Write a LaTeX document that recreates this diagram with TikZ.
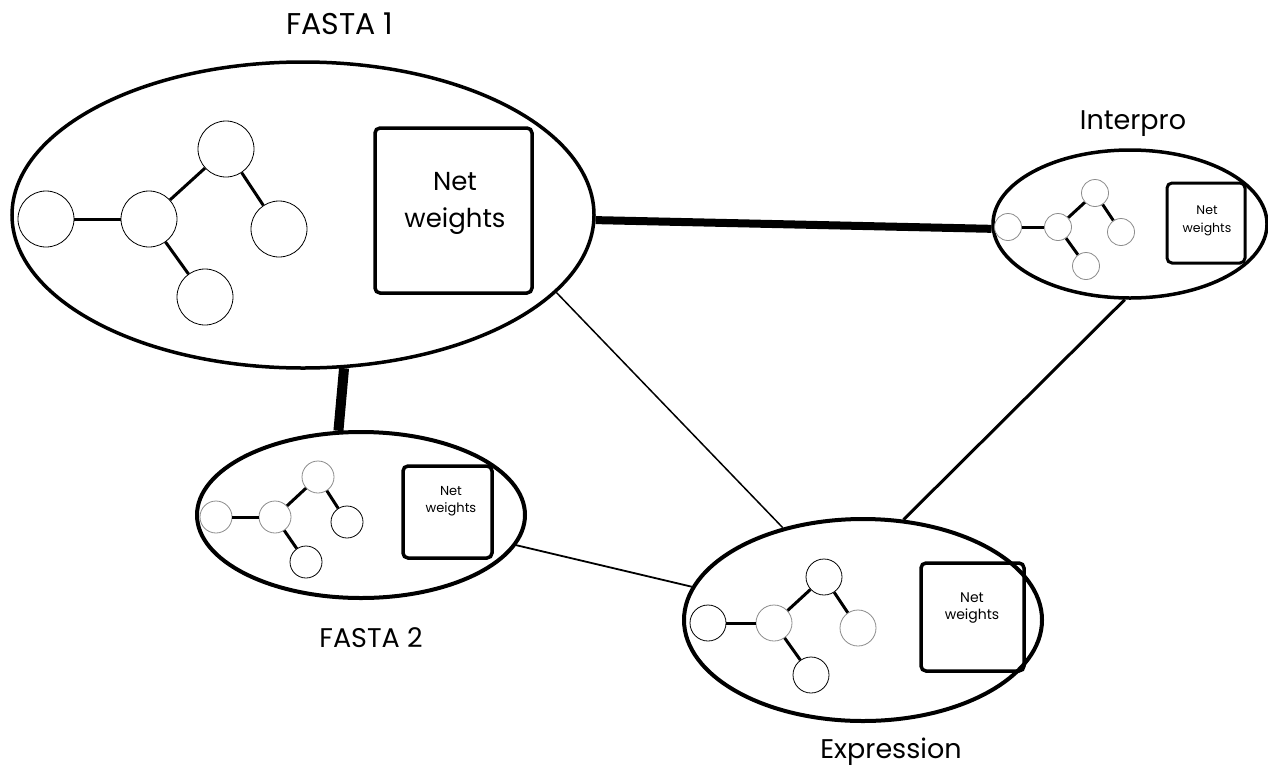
\documentclass[tikz,border=0pt]{standalone}
\usepackage{fontspec}
\setmainfont{Poppins}
\usetikzlibrary{shapes.geometric}
\begin{document}
\begin{tikzpicture}[x=1pt,y=-1pt,
  grp/.style={draw, ellipse, line width=3.5pt, inner sep=0pt, fill=white},
  wbox/.style={draw, rounded corners=5pt, line width=3.5pt, inner sep=0pt},
  nb/.style={draw=black, circle, fill=white, line width=0.8pt, inner sep=0pt},
  ng/.style={draw=black!45, circle, fill=white, line width=0.8pt, inner sep=0pt},
  ed/.style={line width=3pt},
  title/.style={font=\fontsize{27}{32}\selectfont},
  wtxt/.style={align=center, inner sep=0pt},
  link/.style={line cap=butt}
]
\useasboundingbox (0,0) rectangle (1268,774);

% group ellipses
\node[grp, minimum width=582pt, minimum height=306pt] (f1) at (303,215) {};
\node[grp, minimum width=274pt, minimum height=148pt] (ip) at (1130,224) {};
\node[grp, line width=4pt, minimum width=328pt, minimum height=166pt] (f2) at (361,515) {};
\node[grp, line width=4pt, minimum width=358pt, minimum height=202pt] (ex) at (863,620) {};

% connectors between groups
\draw[link, line width=8pt] (f1.-1) -- (ip.-178.8);
\draw[link, line width=10pt] (f1.-75.3) -- (f2.105.5);
\draw[link, line width=1.5pt] (f1.-17.6) -- (ex.131.6);
\draw[link, line width=3pt] (ip.-94.6) -- (ex.68.2);
\draw[link, line width=1.8pt] (f2.-11.7) -- (ex.169.1);

% titles
\node[title, font=\fontsize{30}{36}\selectfont] (t1) at (340,24) {FASTA 1};
\node[title] (t2) at (1133,124) {Interpro};
\node[title] (t3) at (371,638) {FASTA 2};
\node[title] (t4) at (891,752) {Expression};

% ---- FASTA 1 network
\begin{scope}[every node/.append style={minimum size=56pt}]
\node[nb] (a1) at (46,219) {};
\node[nb] (a2) at (149,219) {};
\node[nb] (a3) at (226,149) {};
\node[nb] (a4) at (279,229) {};
\node[nb] (a5) at (205,297) {};
\end{scope}
\draw[ed] (a1) -- (a2);
\draw[ed] (a2) -- (a3);
\draw[ed] (a3) -- (a4);
\draw[ed] (a2) -- (a5);
\node[wbox, minimum width=157pt, minimum height=165pt] (b1) at (453.5,210.5) {};
\node[wtxt, font=\fontsize{26}{37}\selectfont] (w1) at (455,203) {Net\\weights};

% ---- Interpro network
\begin{scope}[every node/.append style={minimum size=27pt}]
\node[ng] (c1) at (1008,227) {};
\node[ng] (c2) at (1058,227) {};
\node[ng] (c3) at (1095,193) {};
\node[ng] (c4) at (1121,232) {};
\node[ng] (c5) at (1086,266) {};
\end{scope}
\draw[ed] (c1) -- (c2);
\draw[ed] (c2) -- (c3);
\draw[ed] (c3) -- (c4);
\draw[ed] (c2) -- (c5);
\node[wbox, line width=3pt, minimum width=78pt, minimum height=80pt] (b2) at (1206,223) {};
\node[wtxt, font=\fontsize{12.5}{18}\selectfont] (w2) at (1207,221) {Net\\weights};

% ---- FASTA 2 network
\begin{scope}[every node/.append style={minimum size=32pt}]
\node[ng] (d1) at (216,517) {};
\node[ng] (d2) at (275,517) {};
\node[ng] (d3) at (318,477) {};
\node[nb] (d4) at (347,522) {};
\node[nb] (d5) at (306,562) {};
\end{scope}
\draw[ed] (d1) -- (d2);
\draw[ed] (d2) -- (d3);
\draw[ed] (d3) -- (d4);
\draw[ed] (d2) -- (d5);
\node[wbox, minimum width=89pt, minimum height=92pt] (b3) at (447.5,512) {};
\node[wtxt, font=\fontsize{13}{17}\selectfont] (w3) at (451,501) {Net\\weights};

% ---- Expression network
\begin{scope}[every node/.append style={minimum size=36pt}]
\node[nb] (e1) at (708,623) {};
\node[ng] (e2) at (774,623) {};
\node[nb] (e3) at (824,577) {};
\node[ng] (e4) at (858,628) {};
\node[nb] (e5) at (811,675) {};
\end{scope}
\draw[ed] (e1) -- (e2);
\draw[ed] (e2) -- (e3);
\draw[ed] (e3) -- (e4);
\draw[ed] (e2) -- (e5);
\node[wbox, minimum width=103pt, minimum height=108pt] (b4) at (972.5,617) {};
\node[wtxt, font=\fontsize{14}{17}\selectfont] (w4) at (972,608) {Net\\weights};
\end{tikzpicture}
\end{document}
